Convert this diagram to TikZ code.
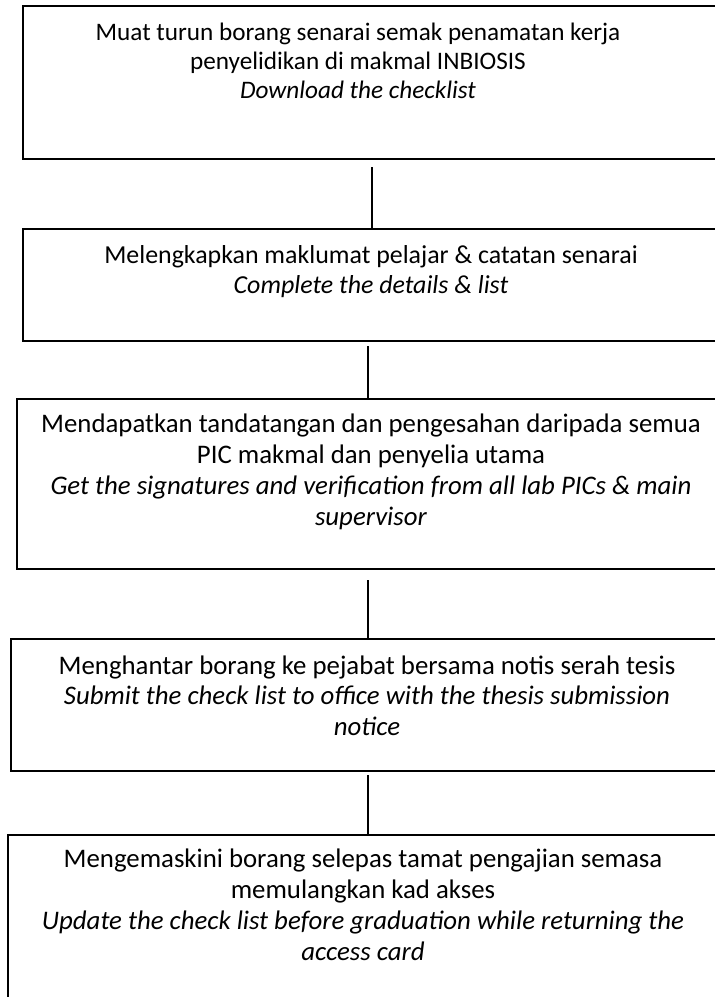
\documentclass[tikz,border=0pt]{standalone}
\usepackage{fontspec}
\setmainfont{Carlito}
\begin{document}
\begin{tikzpicture}[x=1pt,y=-1pt,
  box/.style={draw=black, line width=2.2pt, anchor=north west, inner sep=0pt},
  txt/.style={align=center, font=\fontsize{26.8}{30.7}\selectfont, inner sep=0pt, anchor=base},
  conn/.style={draw=black, line width=1.8pt}]
\useasboundingbox (0,0) rectangle (715,997);
\clip (0,0) rectangle (715,997);
\fill[white] (0,0) rectangle (715,997);
% boxes
\node[box, minimum width=710pt, minimum height=153pt] (b1) at (22,5) {};
\node[box, minimum width=710pt, minimum height=112pt] (b2) at (22,228) {};
\node[box, minimum width=710pt, minimum height=170pt] (b3) at (16,398) {};
\node[box, minimum width=720pt, minimum height=132pt] (b4) at (10,638) {};
\node[box, minimum width=720pt, minimum height=200pt] (b5) at (7,834) {};
% texts (anchor = baseline of last line)
\node[txt, font=\fontsize{25.2}{28.8}\selectfont] (t1) at (358,98) {Muat turun borang senarai semak penamatan kerja\\penyelidikan di makmal INBIOSIS\\\textit{Download the checklist}};
\node[txt, font=\fontsize{25.9}{29.6}\selectfont] (t2) at (371,293) {Melengkapkan maklumat pelajar \& catatan senarai\\\textit{Complete the details \& list}};
\node[txt] (t3) at (371,525) {Mendapatkan tandatangan dan pengesahan daripada semua\\PIC makmal dan penyelia utama\\\textit{Get the signatures and verification from all lab PICs \& main}\\\textit{supervisor}};
\node[txt] (t4) at (367,735.5) {Menghantar borang ke pejabat bersama notis serah tesis\\\textit{Submit the check list to office with the thesis submission}\\\textit{notice}};
\node[txt] (t5) at (363,960) {Mengemaskini borang selepas tamat pengajian semasa\\memulangkan kad akses\\\textit{Update the check list before graduation while returning the}\\\textit{access card}};
% connectors
\coordinate (c1) at (372,0);
\coordinate (c2) at (368,0);
\draw[conn, shorten <=7pt] (b1.south -| c1) -- (b2.north -| c1);
\draw[conn, shorten <=4pt] (b2.south -| c2) -- (b3.north -| c2);
\draw[conn, shorten <=10pt] (b3.south -| c2) -- (b4.north -| c2);
\draw[conn, shorten <=3pt] (b4.south -| c2) -- (b5.north -| c2);
\end{tikzpicture}
\end{document}
